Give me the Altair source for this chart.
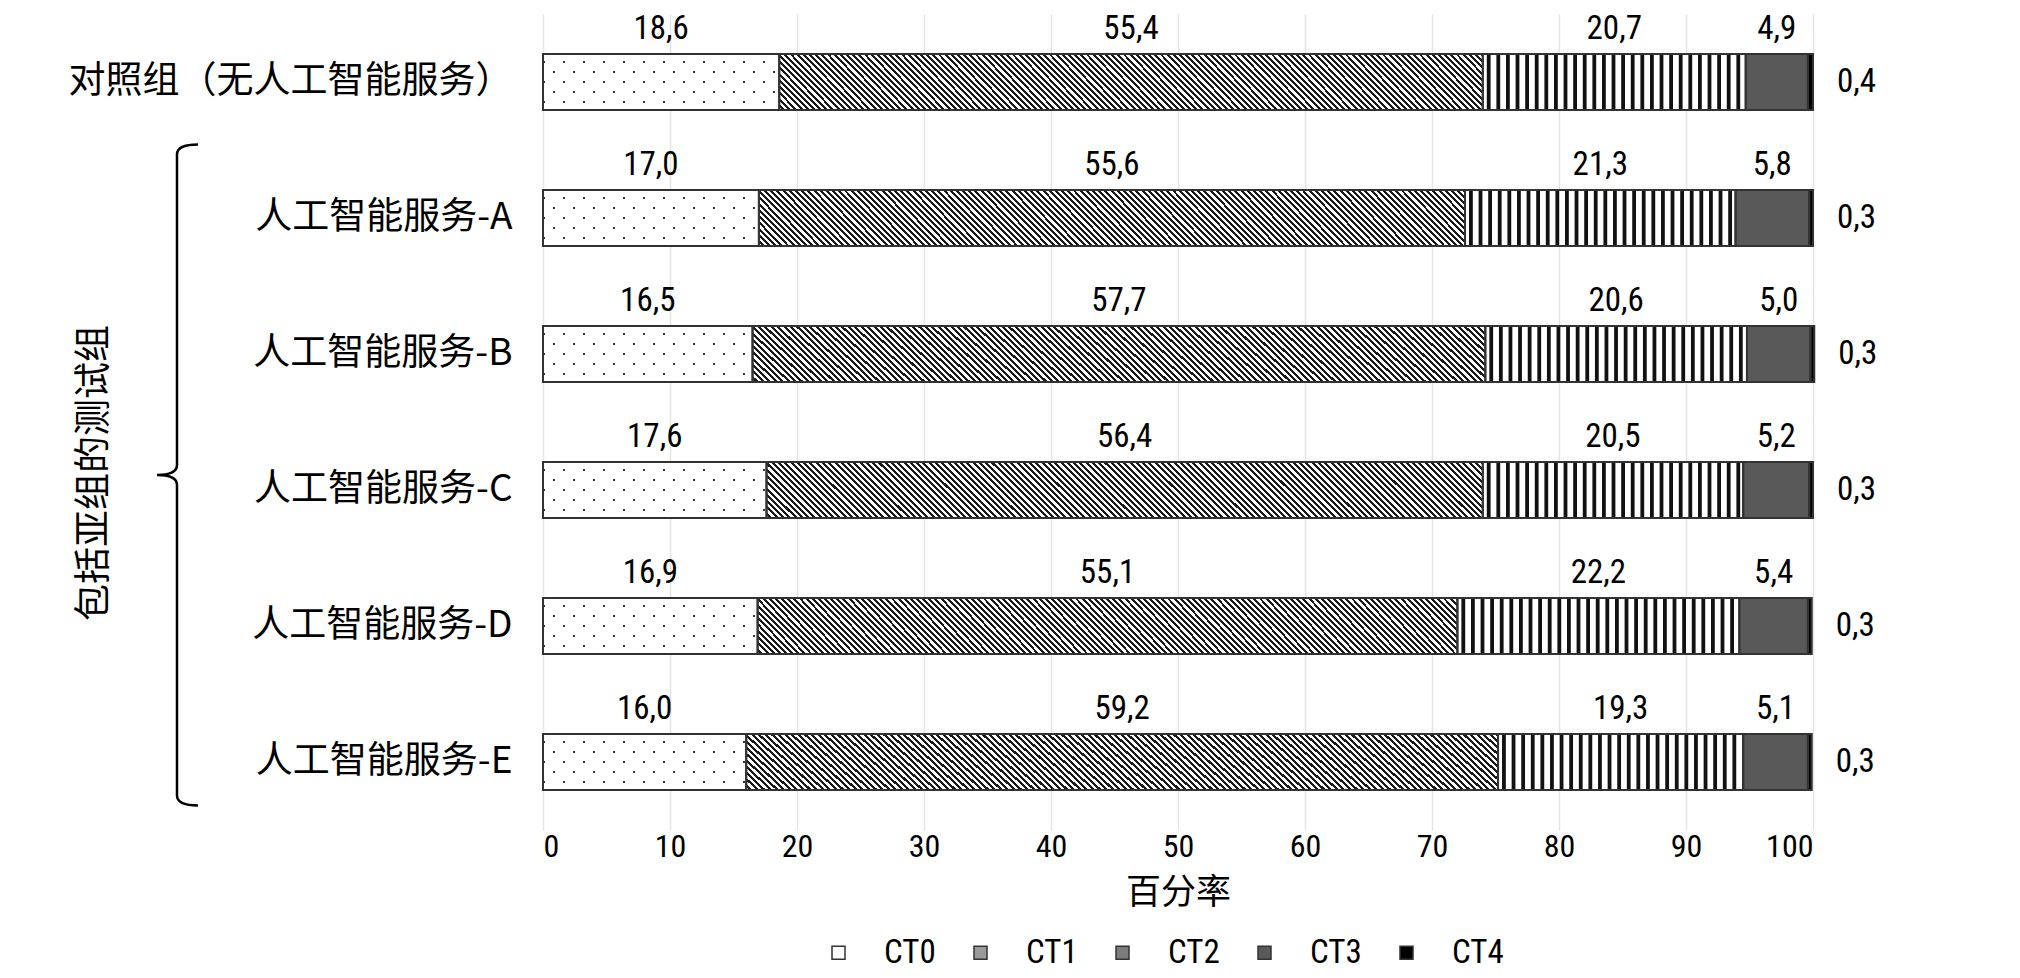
import altair as alt
import pandas as pd

groups = ["对照组（无人工智能服务）", "人工智能服务-A", "人工智能服务-B",
          "人工智能服务-C", "人工智能服务-D", "人工智能服务-E"]
cts = ["CT0", "CT1", "CT2", "CT3", "CT4"]
ct0 = [18.6, 17.0, 16.5, 17.6, 16.9, 16.0]
ct1 = [55.4, 55.6, 57.7, 56.4, 55.1, 59.2]
ct2 = [20.7, 21.3, 20.6, 20.5, 22.2, 19.3]
ct3 = [4.9, 5.8, 5.0, 5.2, 5.4, 5.1]
ct4 = [0.4, 0.3, 0.3, 0.3, 0.3, 0.3]
x_ticks = [0, 10, 20, 30, 40, 50, 60, 70, 80, 90, 100]
x_title = "百分率"
side_title = "包括亚组的测试组"

series = [ct0, ct1, ct2, ct3, ct4]
rows = []
for gi, g in enumerate(groups):
    for ci, c in enumerate(cts):
        rows.append({"group": g, "ct": c, "order": ci, "value": series[ci][gi]})
df = pd.DataFrame(rows)

NUM_FONT = "Roboto Condensed, Roboto, sans-serif"
CJK_FONT = "Noto Sans CJK SC"
legend_fill = ["#ffffff", "#9a9a9a", "#7c7c7c", "#595959", "#000000"]

xax = alt.Axis(values=x_ticks, title=x_title, grid=True, gridColor="#e4e4e4", gridWidth=1.5,
               ticks=False, domain=False, labelFont=NUM_FONT, labelFontSize=32,
               labelColor="black", labelPadding=1, titleFont=CJK_FONT, titleFontSize=35,
               titleFontWeight="normal", titleColor="black", titlePadding=13)
xscale = alt.Scale(domain=[0, 100], nice=False, zero=True)
yax = alt.Axis(title=None, ticks=False, domain=False, labelFont=CJK_FONT, labelFontSize=37,
               labelColor="black", labelPadding=31, labelLimit=0)
yenc = alt.Y("group:N", sort=groups, axis=yax,
             scale=alt.Scale(paddingInner=0.59, paddingOuter=0.295))

base = alt.Chart(df).transform_stack(
    stack="value", groupby=["group"], as_=["x0", "x1"],
    sort=[alt.SortField("order", order="ascending")]
).transform_calculate(
    mid="(datum.x0 + datum.x1) / 2",
    label="replace(format(datum.value, '.1f'), '.', ',')"
)

xenc = alt.X("x0:Q", scale=xscale, axis=xax)

bars = base.mark_bar().encode(
    x=xenc, x2="x1:Q", y=yenc,
    color=alt.Color("ct:N", scale=alt.Scale(domain=cts, range=legend_fill),
                    legend=alt.Legend(orient="none", direction="horizontal", title=None,
                                      legendX=279, legendY=922, symbolType="square",
                                      symbolSize=169, symbolStrokeColor="#333333",
                                      symbolStrokeWidth=1.5, labelFont=NUM_FONT,
                                      labelFontSize=33, labelColor="black",
                                      labelOffset=29, columnPadding=28))
)

# CT0 white with dotted texture
layers = [bars]
dot_rows = [(-20, 0), (-10, 10), (0, 0), (10, 10), (20, 0)]
for off, dash_off in dot_rows:
    layers.append(
        base.transform_filter(alt.datum.ct == "CT0").mark_rule(
            yOffset=off, strokeDash=[2, 18], strokeDashOffset=dash_off,
            strokeWidth=2, color="#3a3a3a"
        ).encode(x=xenc, x2="x1:Q", y=yenc)
    )

# CT1 diagonal hatch via gradient
w_px = 0.565 * 1270
h_px = 56.0
k = h_px / w_px
a = (1 + k) / (1 + k * k)
n_per = 123
stops = []
for i in range(n_per):
    s0 = i / n_per
    s1 = (i + 0.52) / n_per
    s2 = (i + 1) / n_per
    stops += [alt.GradientStop(color="#ffffff", offset=s0),
              alt.GradientStop(color="#ffffff", offset=s1),
              alt.GradientStop(color="#1a1a1a", offset=s1),
              alt.GradientStop(color="#1a1a1a", offset=s2)]
hatch = alt.LinearGradient(gradient="linear", stops=stops, x1=0, y1=1, x2=a, y2=1 - a * k)
layers.append(
    base.transform_filter(alt.datum.ct == "CT1").mark_bar(fill=hatch).encode(
        x=xenc, x2="x1:Q", y=yenc)
)

# CT2 vertical stripes
layers.append(
    base.transform_filter(alt.datum.ct == "CT2").mark_bar(fill="#ffffff").encode(
        x=xenc, x2="x1:Q", y=yenc)
)
layers.append(
    base.transform_filter(alt.datum.ct == "CT2").mark_rule(
        strokeWidth=54, strokeDash=[3.8, 5.8], strokeDashOffset=-4, color="#111111"
    ).encode(x=xenc, x2="x1:Q", y=yenc)
)

# outlines
layers.append(
    base.mark_bar(fill="transparent", stroke="#333333", strokeWidth=2).encode(
        x=xenc, x2="x1:Q", y=yenc)
)

# value labels above
layers.append(
    base.transform_filter(alt.datum.ct != "CT4").mark_text(
        dy=-53, fontSize=33, font=NUM_FONT, color="black", baseline="middle", align="center"
    ).encode(x=alt.X("mid:Q", scale=xscale, axis=xax), y=yenc, text="label:N")
)
layers.append(
    base.transform_filter(alt.datum.ct == "CT4").mark_text(
        dx=24, fontSize=33, font=NUM_FONT, color="black", baseline="middle", align="left"
    ).encode(x=alt.X("x1:Q", scale=xscale, axis=xax), y=yenc, text="label:N")
)

# brace and side title
ann = alt.Data(values=[{"group": groups[3], "text": side_title}])
brace_path = ("M 0.124 -1 Q 0.0605 -1 0.0605 -0.97 L 0.0605 -0.03 Q 0.0605 0 0 0 "
              "Q 0.0605 0 0.0605 0.03 L 0.0605 0.97 Q 0.0605 1 0.124 1")
layers.append(
    alt.Chart(ann).mark_point(shape=brace_path, filled=False, size=661 * 661,
                              strokeWidth=2.5, color="black", opacity=1, yOffset=-15).encode(
        x=alt.value(-386), y=yenc)
)
layers.append(
    alt.Chart(ann).mark_text(angle=270, fontSize=37, font=CJK_FONT, color="black",
                             align="center", baseline="middle", yOffset=-17).encode(
        x=alt.value(-448), y=yenc, text="text:N")
)

chart = alt.layer(*layers).properties(
    width=1270, height=816,
    autosize=alt.AutoSizeParams(type="none"),
    padding={"left": 535, "top": 6, "right": 150, "bottom": 148},
).configure_view(strokeWidth=0).resolve_scale(x="shared", y="shared")

chart.save("out.html", embed_options={"renderer": "svg", "actions": False})
